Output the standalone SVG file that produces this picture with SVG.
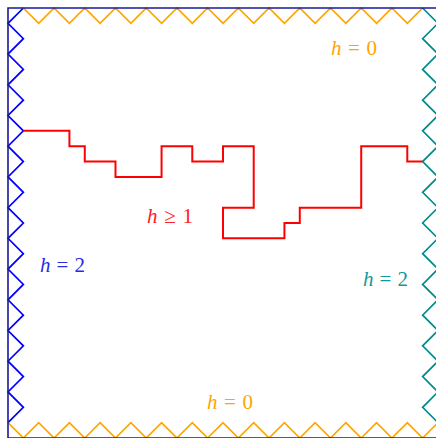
<svg xmlns="http://www.w3.org/2000/svg" width="436" height="438" viewBox="0 0 436 438">
<style>
  .ln { fill: none; stroke-width: 1.7; stroke-linejoin: miter; vector-effect: non-scaling-stroke; }
  .blue { stroke: #0000ff; }
  .orange { stroke: #ffa500; }
  .teal { stroke: #008b8b; }
  .red { stroke: #ff0000; stroke-width: 2; }
  .frame { fill: none; stroke: #1a1a9a; stroke-width: 1.6; vector-effect: non-scaling-stroke; }
  .lbl { font-family: "Liberation Serif", "DejaVu Serif", serif; font-size: 21px; }
</style>
<rect width="436" height="438" fill="#ffffff"/>
<g id="domain" transform="translate(8,8) scale(15.357)">
  <g id="left-boundary"><polyline class="ln blue" points="1,0 0,1 1,2 0,3 1,4 0,5 1,6 0,7 1,8 0,9 1,10 0,11 1,12 0,13 1,14 0,15 1,16 0,17 1,18 0,19 1,20 0,21 1,22 0,23 1,24 0,25 1,26 0,27"/></g>
  <g id="top-boundary"><polyline class="ln orange" points="1,0 2,1 3,0 4,1 5,0 6,1 7,0 8,1 9,0 10,1 11,0 12,1 13,0 14,1 15,0 16,1 17,0 18,1 19,0 20,1 21,0 22,1 23,0 24,1 25,0 26,1 27,0"/></g>
  <g id="right-boundary"><polyline class="ln teal" points="27,0 28,1 27,2 28,3 27,4 28,5 27,6 28,7 27,8 28,9 27,10 28,11 27,12 28,13 27,14 28,15 27,16 28,17 27,18 28,19 27,20 28,21 27,22 28,23 27,24 28,25 27,26 28,27"/></g>
  <g id="bottom-boundary"><polyline class="ln orange" points="0,27 1,28 2,27 3,28 4,27 5,28 6,27 7,28 8,27 9,28 10,27 11,28 12,27 13,28 14,27 15,28 16,27 17,28 18,27 19,28 20,27 21,28 22,27 23,28 24,27 25,28 26,27 27,28 28,27"/></g>
  <g id="interface"><polyline class="ln red" points="1,8 4,8 4,9 5,9 5,10 7,10 7,11 10,11 10,9 12,9 12,10 14,10 14,9 16,9 16,13 14,13 14,15 18,15 18,14 19,14 19,13 23,13 23,9 26,9 26,10 27,10"/></g>
  <rect class="frame" x="0" y="0" width="28" height="28"/>
</g>
<g id="labels">
  <text class="lbl" x="331" y="55" fill="#ffa500" textLength="46" lengthAdjust="spacing"><tspan font-style="italic">h</tspan> = 0</text>
  <text class="lbl" x="207" y="409" fill="#ffa500" textLength="46" lengthAdjust="spacing"><tspan font-style="italic">h</tspan> = 0</text>
  <text class="lbl" x="147" y="223" fill="#ff2020" textLength="46" lengthAdjust="spacing"><tspan font-style="italic">h</tspan> ≥ 1</text>
  <text class="lbl" x="40" y="272" fill="#2a2ae0" textLength="45" lengthAdjust="spacing"><tspan font-style="italic">h</tspan> = 2</text>
  <text class="lbl" x="363" y="286" fill="#109a9a" textLength="45" lengthAdjust="spacing"><tspan font-style="italic">h</tspan> = 2</text>
</g>
</svg>
